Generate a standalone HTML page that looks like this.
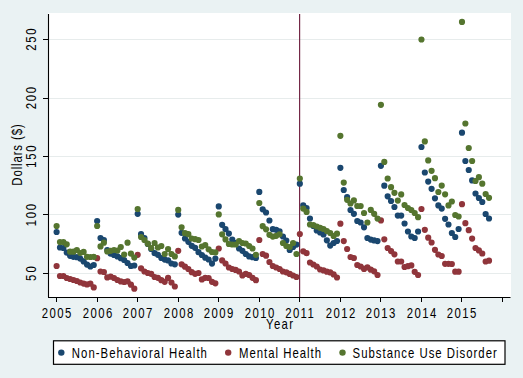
<!DOCTYPE html>
<html><head><meta charset="utf-8"><style>
html,body{margin:0;padding:0;background:#EAF2F3;}
svg{display:block;}
text{font-family:"Liberation Sans", sans-serif;fill:#000;}
</style></head><body>
<svg width="523" height="378" viewBox="0 0 523 378">
<rect x="0" y="0" width="523" height="378" fill="#EAF2F3"/>
<rect x="48" y="13" width="463" height="284" fill="#FFFFFF"/>
<line x1="49" y1="273.5" x2="511" y2="273.5" stroke="#E7ECEC" stroke-width="1"/>
<line x1="49" y1="214.5" x2="511" y2="214.5" stroke="#E7ECEC" stroke-width="1"/>
<line x1="49" y1="156.5" x2="511" y2="156.5" stroke="#E7ECEC" stroke-width="1"/>
<line x1="49" y1="98.5" x2="511" y2="98.5" stroke="#E7ECEC" stroke-width="1"/>
<line x1="49" y1="39.5" x2="511" y2="39.5" stroke="#E7ECEC" stroke-width="1"/>
<line x1="299.6" y1="14" x2="299.6" y2="297" stroke="#742846" stroke-width="1.2"/>
<path d="M53.50 232.00a3.1 3.1 0 1 0 6.2 0a3.1 3.1 0 1 0 -6.2 0M56.88 247.50a3.1 3.1 0 1 0 6.2 0a3.1 3.1 0 1 0 -6.2 0M60.26 248.00a3.1 3.1 0 1 0 6.2 0a3.1 3.1 0 1 0 -6.2 0M63.63 252.60a3.1 3.1 0 1 0 6.2 0a3.1 3.1 0 1 0 -6.2 0M67.01 255.80a3.1 3.1 0 1 0 6.2 0a3.1 3.1 0 1 0 -6.2 0M70.39 256.80a3.1 3.1 0 1 0 6.2 0a3.1 3.1 0 1 0 -6.2 0M73.77 257.20a3.1 3.1 0 1 0 6.2 0a3.1 3.1 0 1 0 -6.2 0M77.15 258.60a3.1 3.1 0 1 0 6.2 0a3.1 3.1 0 1 0 -6.2 0M80.53 261.40a3.1 3.1 0 1 0 6.2 0a3.1 3.1 0 1 0 -6.2 0M83.90 264.60a3.1 3.1 0 1 0 6.2 0a3.1 3.1 0 1 0 -6.2 0M87.28 266.50a3.1 3.1 0 1 0 6.2 0a3.1 3.1 0 1 0 -6.2 0M90.66 265.00a3.1 3.1 0 1 0 6.2 0a3.1 3.1 0 1 0 -6.2 0M94.04 221.00a3.1 3.1 0 1 0 6.2 0a3.1 3.1 0 1 0 -6.2 0M97.42 238.00a3.1 3.1 0 1 0 6.2 0a3.1 3.1 0 1 0 -6.2 0M100.80 240.00a3.1 3.1 0 1 0 6.2 0a3.1 3.1 0 1 0 -6.2 0M104.17 250.00a3.1 3.1 0 1 0 6.2 0a3.1 3.1 0 1 0 -6.2 0M107.55 253.70a3.1 3.1 0 1 0 6.2 0a3.1 3.1 0 1 0 -6.2 0M110.93 255.00a3.1 3.1 0 1 0 6.2 0a3.1 3.1 0 1 0 -6.2 0M114.31 256.40a3.1 3.1 0 1 0 6.2 0a3.1 3.1 0 1 0 -6.2 0M117.69 258.20a3.1 3.1 0 1 0 6.2 0a3.1 3.1 0 1 0 -6.2 0M121.07 260.00a3.1 3.1 0 1 0 6.2 0a3.1 3.1 0 1 0 -6.2 0M124.44 263.00a3.1 3.1 0 1 0 6.2 0a3.1 3.1 0 1 0 -6.2 0M127.82 266.00a3.1 3.1 0 1 0 6.2 0a3.1 3.1 0 1 0 -6.2 0M131.20 265.50a3.1 3.1 0 1 0 6.2 0a3.1 3.1 0 1 0 -6.2 0M134.58 213.80a3.1 3.1 0 1 0 6.2 0a3.1 3.1 0 1 0 -6.2 0M137.96 234.20a3.1 3.1 0 1 0 6.2 0a3.1 3.1 0 1 0 -6.2 0M141.34 238.00a3.1 3.1 0 1 0 6.2 0a3.1 3.1 0 1 0 -6.2 0M144.71 244.00a3.1 3.1 0 1 0 6.2 0a3.1 3.1 0 1 0 -6.2 0M148.09 249.00a3.1 3.1 0 1 0 6.2 0a3.1 3.1 0 1 0 -6.2 0M151.47 253.20a3.1 3.1 0 1 0 6.2 0a3.1 3.1 0 1 0 -6.2 0M154.85 254.80a3.1 3.1 0 1 0 6.2 0a3.1 3.1 0 1 0 -6.2 0M158.23 258.00a3.1 3.1 0 1 0 6.2 0a3.1 3.1 0 1 0 -6.2 0M161.61 259.60a3.1 3.1 0 1 0 6.2 0a3.1 3.1 0 1 0 -6.2 0M164.98 260.40a3.1 3.1 0 1 0 6.2 0a3.1 3.1 0 1 0 -6.2 0M168.36 263.50a3.1 3.1 0 1 0 6.2 0a3.1 3.1 0 1 0 -6.2 0M171.74 264.30a3.1 3.1 0 1 0 6.2 0a3.1 3.1 0 1 0 -6.2 0M175.12 214.60a3.1 3.1 0 1 0 6.2 0a3.1 3.1 0 1 0 -6.2 0M178.50 232.80a3.1 3.1 0 1 0 6.2 0a3.1 3.1 0 1 0 -6.2 0M181.88 238.50a3.1 3.1 0 1 0 6.2 0a3.1 3.1 0 1 0 -6.2 0M185.25 241.80a3.1 3.1 0 1 0 6.2 0a3.1 3.1 0 1 0 -6.2 0M188.63 245.80a3.1 3.1 0 1 0 6.2 0a3.1 3.1 0 1 0 -6.2 0M192.01 247.80a3.1 3.1 0 1 0 6.2 0a3.1 3.1 0 1 0 -6.2 0M195.39 252.20a3.1 3.1 0 1 0 6.2 0a3.1 3.1 0 1 0 -6.2 0M198.77 255.00a3.1 3.1 0 1 0 6.2 0a3.1 3.1 0 1 0 -6.2 0M202.15 257.70a3.1 3.1 0 1 0 6.2 0a3.1 3.1 0 1 0 -6.2 0M205.52 259.50a3.1 3.1 0 1 0 6.2 0a3.1 3.1 0 1 0 -6.2 0M208.90 263.60a3.1 3.1 0 1 0 6.2 0a3.1 3.1 0 1 0 -6.2 0M212.28 258.60a3.1 3.1 0 1 0 6.2 0a3.1 3.1 0 1 0 -6.2 0M215.66 206.40a3.1 3.1 0 1 0 6.2 0a3.1 3.1 0 1 0 -6.2 0M219.04 224.80a3.1 3.1 0 1 0 6.2 0a3.1 3.1 0 1 0 -6.2 0M222.41 229.20a3.1 3.1 0 1 0 6.2 0a3.1 3.1 0 1 0 -6.2 0M225.79 233.60a3.1 3.1 0 1 0 6.2 0a3.1 3.1 0 1 0 -6.2 0M229.17 239.50a3.1 3.1 0 1 0 6.2 0a3.1 3.1 0 1 0 -6.2 0M232.55 243.00a3.1 3.1 0 1 0 6.2 0a3.1 3.1 0 1 0 -6.2 0M235.93 248.50a3.1 3.1 0 1 0 6.2 0a3.1 3.1 0 1 0 -6.2 0M239.31 250.80a3.1 3.1 0 1 0 6.2 0a3.1 3.1 0 1 0 -6.2 0M242.68 254.00a3.1 3.1 0 1 0 6.2 0a3.1 3.1 0 1 0 -6.2 0M246.06 256.40a3.1 3.1 0 1 0 6.2 0a3.1 3.1 0 1 0 -6.2 0M249.44 257.20a3.1 3.1 0 1 0 6.2 0a3.1 3.1 0 1 0 -6.2 0M252.82 258.00a3.1 3.1 0 1 0 6.2 0a3.1 3.1 0 1 0 -6.2 0M256.20 191.90a3.1 3.1 0 1 0 6.2 0a3.1 3.1 0 1 0 -6.2 0M259.58 209.30a3.1 3.1 0 1 0 6.2 0a3.1 3.1 0 1 0 -6.2 0M262.95 212.50a3.1 3.1 0 1 0 6.2 0a3.1 3.1 0 1 0 -6.2 0M266.33 220.50a3.1 3.1 0 1 0 6.2 0a3.1 3.1 0 1 0 -6.2 0M269.71 229.20a3.1 3.1 0 1 0 6.2 0a3.1 3.1 0 1 0 -6.2 0M273.09 229.80a3.1 3.1 0 1 0 6.2 0a3.1 3.1 0 1 0 -6.2 0M276.47 231.30a3.1 3.1 0 1 0 6.2 0a3.1 3.1 0 1 0 -6.2 0M279.85 236.50a3.1 3.1 0 1 0 6.2 0a3.1 3.1 0 1 0 -6.2 0M283.22 240.60a3.1 3.1 0 1 0 6.2 0a3.1 3.1 0 1 0 -6.2 0M286.60 250.00a3.1 3.1 0 1 0 6.2 0a3.1 3.1 0 1 0 -6.2 0M289.98 247.00a3.1 3.1 0 1 0 6.2 0a3.1 3.1 0 1 0 -6.2 0M293.36 244.60a3.1 3.1 0 1 0 6.2 0a3.1 3.1 0 1 0 -6.2 0M296.74 183.70a3.1 3.1 0 1 0 6.2 0a3.1 3.1 0 1 0 -6.2 0M300.12 205.30a3.1 3.1 0 1 0 6.2 0a3.1 3.1 0 1 0 -6.2 0M303.49 208.00a3.1 3.1 0 1 0 6.2 0a3.1 3.1 0 1 0 -6.2 0M306.87 218.50a3.1 3.1 0 1 0 6.2 0a3.1 3.1 0 1 0 -6.2 0M310.25 226.00a3.1 3.1 0 1 0 6.2 0a3.1 3.1 0 1 0 -6.2 0M313.63 230.40a3.1 3.1 0 1 0 6.2 0a3.1 3.1 0 1 0 -6.2 0M317.01 232.40a3.1 3.1 0 1 0 6.2 0a3.1 3.1 0 1 0 -6.2 0M320.39 234.40a3.1 3.1 0 1 0 6.2 0a3.1 3.1 0 1 0 -6.2 0M323.76 240.30a3.1 3.1 0 1 0 6.2 0a3.1 3.1 0 1 0 -6.2 0M327.14 245.60a3.1 3.1 0 1 0 6.2 0a3.1 3.1 0 1 0 -6.2 0M330.52 243.00a3.1 3.1 0 1 0 6.2 0a3.1 3.1 0 1 0 -6.2 0M333.90 241.00a3.1 3.1 0 1 0 6.2 0a3.1 3.1 0 1 0 -6.2 0M337.28 167.80a3.1 3.1 0 1 0 6.2 0a3.1 3.1 0 1 0 -6.2 0M340.66 190.00a3.1 3.1 0 1 0 6.2 0a3.1 3.1 0 1 0 -6.2 0M344.03 197.20a3.1 3.1 0 1 0 6.2 0a3.1 3.1 0 1 0 -6.2 0M347.41 210.00a3.1 3.1 0 1 0 6.2 0a3.1 3.1 0 1 0 -6.2 0M350.79 213.80a3.1 3.1 0 1 0 6.2 0a3.1 3.1 0 1 0 -6.2 0M354.17 221.00a3.1 3.1 0 1 0 6.2 0a3.1 3.1 0 1 0 -6.2 0M357.55 222.50a3.1 3.1 0 1 0 6.2 0a3.1 3.1 0 1 0 -6.2 0M360.93 227.30a3.1 3.1 0 1 0 6.2 0a3.1 3.1 0 1 0 -6.2 0M364.30 238.00a3.1 3.1 0 1 0 6.2 0a3.1 3.1 0 1 0 -6.2 0M367.68 239.60a3.1 3.1 0 1 0 6.2 0a3.1 3.1 0 1 0 -6.2 0M371.06 240.40a3.1 3.1 0 1 0 6.2 0a3.1 3.1 0 1 0 -6.2 0M374.44 241.10a3.1 3.1 0 1 0 6.2 0a3.1 3.1 0 1 0 -6.2 0M377.82 165.80a3.1 3.1 0 1 0 6.2 0a3.1 3.1 0 1 0 -6.2 0M381.20 185.70a3.1 3.1 0 1 0 6.2 0a3.1 3.1 0 1 0 -6.2 0M384.57 196.30a3.1 3.1 0 1 0 6.2 0a3.1 3.1 0 1 0 -6.2 0M387.95 201.00a3.1 3.1 0 1 0 6.2 0a3.1 3.1 0 1 0 -6.2 0M391.33 207.00a3.1 3.1 0 1 0 6.2 0a3.1 3.1 0 1 0 -6.2 0M394.71 215.60a3.1 3.1 0 1 0 6.2 0a3.1 3.1 0 1 0 -6.2 0M398.09 215.60a3.1 3.1 0 1 0 6.2 0a3.1 3.1 0 1 0 -6.2 0M401.46 223.50a3.1 3.1 0 1 0 6.2 0a3.1 3.1 0 1 0 -6.2 0M404.84 231.50a3.1 3.1 0 1 0 6.2 0a3.1 3.1 0 1 0 -6.2 0M408.22 236.50a3.1 3.1 0 1 0 6.2 0a3.1 3.1 0 1 0 -6.2 0M411.60 238.00a3.1 3.1 0 1 0 6.2 0a3.1 3.1 0 1 0 -6.2 0M414.98 231.50a3.1 3.1 0 1 0 6.2 0a3.1 3.1 0 1 0 -6.2 0M418.36 147.00a3.1 3.1 0 1 0 6.2 0a3.1 3.1 0 1 0 -6.2 0M421.73 172.50a3.1 3.1 0 1 0 6.2 0a3.1 3.1 0 1 0 -6.2 0M425.11 181.60a3.1 3.1 0 1 0 6.2 0a3.1 3.1 0 1 0 -6.2 0M428.49 188.80a3.1 3.1 0 1 0 6.2 0a3.1 3.1 0 1 0 -6.2 0M431.87 198.30a3.1 3.1 0 1 0 6.2 0a3.1 3.1 0 1 0 -6.2 0M435.25 205.40a3.1 3.1 0 1 0 6.2 0a3.1 3.1 0 1 0 -6.2 0M438.63 208.60a3.1 3.1 0 1 0 6.2 0a3.1 3.1 0 1 0 -6.2 0M442.00 218.80a3.1 3.1 0 1 0 6.2 0a3.1 3.1 0 1 0 -6.2 0M445.38 224.50a3.1 3.1 0 1 0 6.2 0a3.1 3.1 0 1 0 -6.2 0M448.76 233.00a3.1 3.1 0 1 0 6.2 0a3.1 3.1 0 1 0 -6.2 0M452.14 237.00a3.1 3.1 0 1 0 6.2 0a3.1 3.1 0 1 0 -6.2 0M455.52 229.00a3.1 3.1 0 1 0 6.2 0a3.1 3.1 0 1 0 -6.2 0M458.90 132.70a3.1 3.1 0 1 0 6.2 0a3.1 3.1 0 1 0 -6.2 0M462.27 161.00a3.1 3.1 0 1 0 6.2 0a3.1 3.1 0 1 0 -6.2 0M465.65 170.00a3.1 3.1 0 1 0 6.2 0a3.1 3.1 0 1 0 -6.2 0M469.03 180.40a3.1 3.1 0 1 0 6.2 0a3.1 3.1 0 1 0 -6.2 0M472.41 193.50a3.1 3.1 0 1 0 6.2 0a3.1 3.1 0 1 0 -6.2 0M475.79 198.00a3.1 3.1 0 1 0 6.2 0a3.1 3.1 0 1 0 -6.2 0M479.17 202.00a3.1 3.1 0 1 0 6.2 0a3.1 3.1 0 1 0 -6.2 0M482.54 214.00a3.1 3.1 0 1 0 6.2 0a3.1 3.1 0 1 0 -6.2 0M485.92 218.50a3.1 3.1 0 1 0 6.2 0a3.1 3.1 0 1 0 -6.2 0" fill="#1A476F"/>
<path d="M53.50 266.00a3.1 3.1 0 1 0 6.2 0a3.1 3.1 0 1 0 -6.2 0M56.88 276.00a3.1 3.1 0 1 0 6.2 0a3.1 3.1 0 1 0 -6.2 0M60.26 276.00a3.1 3.1 0 1 0 6.2 0a3.1 3.1 0 1 0 -6.2 0M63.63 278.00a3.1 3.1 0 1 0 6.2 0a3.1 3.1 0 1 0 -6.2 0M67.01 279.00a3.1 3.1 0 1 0 6.2 0a3.1 3.1 0 1 0 -6.2 0M70.39 280.00a3.1 3.1 0 1 0 6.2 0a3.1 3.1 0 1 0 -6.2 0M73.77 281.00a3.1 3.1 0 1 0 6.2 0a3.1 3.1 0 1 0 -6.2 0M77.15 282.50a3.1 3.1 0 1 0 6.2 0a3.1 3.1 0 1 0 -6.2 0M80.53 283.60a3.1 3.1 0 1 0 6.2 0a3.1 3.1 0 1 0 -6.2 0M83.90 284.40a3.1 3.1 0 1 0 6.2 0a3.1 3.1 0 1 0 -6.2 0M87.28 283.60a3.1 3.1 0 1 0 6.2 0a3.1 3.1 0 1 0 -6.2 0M90.66 287.40a3.1 3.1 0 1 0 6.2 0a3.1 3.1 0 1 0 -6.2 0M94.04 258.20a3.1 3.1 0 1 0 6.2 0a3.1 3.1 0 1 0 -6.2 0M97.42 271.50a3.1 3.1 0 1 0 6.2 0a3.1 3.1 0 1 0 -6.2 0M100.80 272.00a3.1 3.1 0 1 0 6.2 0a3.1 3.1 0 1 0 -6.2 0M104.17 277.40a3.1 3.1 0 1 0 6.2 0a3.1 3.1 0 1 0 -6.2 0M107.55 276.70a3.1 3.1 0 1 0 6.2 0a3.1 3.1 0 1 0 -6.2 0M110.93 278.00a3.1 3.1 0 1 0 6.2 0a3.1 3.1 0 1 0 -6.2 0M114.31 280.00a3.1 3.1 0 1 0 6.2 0a3.1 3.1 0 1 0 -6.2 0M117.69 281.40a3.1 3.1 0 1 0 6.2 0a3.1 3.1 0 1 0 -6.2 0M121.07 282.00a3.1 3.1 0 1 0 6.2 0a3.1 3.1 0 1 0 -6.2 0M124.44 281.40a3.1 3.1 0 1 0 6.2 0a3.1 3.1 0 1 0 -6.2 0M127.82 284.70a3.1 3.1 0 1 0 6.2 0a3.1 3.1 0 1 0 -6.2 0M131.20 288.70a3.1 3.1 0 1 0 6.2 0a3.1 3.1 0 1 0 -6.2 0M134.58 254.80a3.1 3.1 0 1 0 6.2 0a3.1 3.1 0 1 0 -6.2 0M137.96 268.30a3.1 3.1 0 1 0 6.2 0a3.1 3.1 0 1 0 -6.2 0M141.34 271.50a3.1 3.1 0 1 0 6.2 0a3.1 3.1 0 1 0 -6.2 0M144.71 273.00a3.1 3.1 0 1 0 6.2 0a3.1 3.1 0 1 0 -6.2 0M148.09 273.80a3.1 3.1 0 1 0 6.2 0a3.1 3.1 0 1 0 -6.2 0M151.47 277.00a3.1 3.1 0 1 0 6.2 0a3.1 3.1 0 1 0 -6.2 0M154.85 277.80a3.1 3.1 0 1 0 6.2 0a3.1 3.1 0 1 0 -6.2 0M158.23 280.20a3.1 3.1 0 1 0 6.2 0a3.1 3.1 0 1 0 -6.2 0M161.61 281.80a3.1 3.1 0 1 0 6.2 0a3.1 3.1 0 1 0 -6.2 0M164.98 277.80a3.1 3.1 0 1 0 6.2 0a3.1 3.1 0 1 0 -6.2 0M168.36 282.50a3.1 3.1 0 1 0 6.2 0a3.1 3.1 0 1 0 -6.2 0M171.74 286.50a3.1 3.1 0 1 0 6.2 0a3.1 3.1 0 1 0 -6.2 0M175.12 250.80a3.1 3.1 0 1 0 6.2 0a3.1 3.1 0 1 0 -6.2 0M178.50 264.30a3.1 3.1 0 1 0 6.2 0a3.1 3.1 0 1 0 -6.2 0M181.88 266.70a3.1 3.1 0 1 0 6.2 0a3.1 3.1 0 1 0 -6.2 0M185.25 269.00a3.1 3.1 0 1 0 6.2 0a3.1 3.1 0 1 0 -6.2 0M188.63 272.20a3.1 3.1 0 1 0 6.2 0a3.1 3.1 0 1 0 -6.2 0M192.01 273.80a3.1 3.1 0 1 0 6.2 0a3.1 3.1 0 1 0 -6.2 0M195.39 273.00a3.1 3.1 0 1 0 6.2 0a3.1 3.1 0 1 0 -6.2 0M198.77 279.40a3.1 3.1 0 1 0 6.2 0a3.1 3.1 0 1 0 -6.2 0M202.15 277.80a3.1 3.1 0 1 0 6.2 0a3.1 3.1 0 1 0 -6.2 0M205.52 278.00a3.1 3.1 0 1 0 6.2 0a3.1 3.1 0 1 0 -6.2 0M208.90 281.80a3.1 3.1 0 1 0 6.2 0a3.1 3.1 0 1 0 -6.2 0M212.28 283.30a3.1 3.1 0 1 0 6.2 0a3.1 3.1 0 1 0 -6.2 0M215.66 248.50a3.1 3.1 0 1 0 6.2 0a3.1 3.1 0 1 0 -6.2 0M219.04 260.40a3.1 3.1 0 1 0 6.2 0a3.1 3.1 0 1 0 -6.2 0M222.41 263.50a3.1 3.1 0 1 0 6.2 0a3.1 3.1 0 1 0 -6.2 0M225.79 267.50a3.1 3.1 0 1 0 6.2 0a3.1 3.1 0 1 0 -6.2 0M229.17 269.00a3.1 3.1 0 1 0 6.2 0a3.1 3.1 0 1 0 -6.2 0M232.55 269.90a3.1 3.1 0 1 0 6.2 0a3.1 3.1 0 1 0 -6.2 0M235.93 271.50a3.1 3.1 0 1 0 6.2 0a3.1 3.1 0 1 0 -6.2 0M239.31 275.40a3.1 3.1 0 1 0 6.2 0a3.1 3.1 0 1 0 -6.2 0M242.68 273.80a3.1 3.1 0 1 0 6.2 0a3.1 3.1 0 1 0 -6.2 0M246.06 275.00a3.1 3.1 0 1 0 6.2 0a3.1 3.1 0 1 0 -6.2 0M249.44 277.80a3.1 3.1 0 1 0 6.2 0a3.1 3.1 0 1 0 -6.2 0M252.82 280.20a3.1 3.1 0 1 0 6.2 0a3.1 3.1 0 1 0 -6.2 0M256.20 240.00a3.1 3.1 0 1 0 6.2 0a3.1 3.1 0 1 0 -6.2 0M259.58 254.00a3.1 3.1 0 1 0 6.2 0a3.1 3.1 0 1 0 -6.2 0M262.95 255.70a3.1 3.1 0 1 0 6.2 0a3.1 3.1 0 1 0 -6.2 0M266.33 262.00a3.1 3.1 0 1 0 6.2 0a3.1 3.1 0 1 0 -6.2 0M269.71 266.00a3.1 3.1 0 1 0 6.2 0a3.1 3.1 0 1 0 -6.2 0M273.09 267.50a3.1 3.1 0 1 0 6.2 0a3.1 3.1 0 1 0 -6.2 0M276.47 269.00a3.1 3.1 0 1 0 6.2 0a3.1 3.1 0 1 0 -6.2 0M279.85 271.50a3.1 3.1 0 1 0 6.2 0a3.1 3.1 0 1 0 -6.2 0M283.22 272.30a3.1 3.1 0 1 0 6.2 0a3.1 3.1 0 1 0 -6.2 0M286.60 273.90a3.1 3.1 0 1 0 6.2 0a3.1 3.1 0 1 0 -6.2 0M289.98 275.50a3.1 3.1 0 1 0 6.2 0a3.1 3.1 0 1 0 -6.2 0M293.36 277.00a3.1 3.1 0 1 0 6.2 0a3.1 3.1 0 1 0 -6.2 0M296.74 234.00a3.1 3.1 0 1 0 6.2 0a3.1 3.1 0 1 0 -6.2 0M300.12 251.30a3.1 3.1 0 1 0 6.2 0a3.1 3.1 0 1 0 -6.2 0M303.49 253.20a3.1 3.1 0 1 0 6.2 0a3.1 3.1 0 1 0 -6.2 0M306.87 262.50a3.1 3.1 0 1 0 6.2 0a3.1 3.1 0 1 0 -6.2 0M310.25 264.50a3.1 3.1 0 1 0 6.2 0a3.1 3.1 0 1 0 -6.2 0M313.63 266.50a3.1 3.1 0 1 0 6.2 0a3.1 3.1 0 1 0 -6.2 0M317.01 269.50a3.1 3.1 0 1 0 6.2 0a3.1 3.1 0 1 0 -6.2 0M320.39 270.40a3.1 3.1 0 1 0 6.2 0a3.1 3.1 0 1 0 -6.2 0M323.76 271.70a3.1 3.1 0 1 0 6.2 0a3.1 3.1 0 1 0 -6.2 0M327.14 272.40a3.1 3.1 0 1 0 6.2 0a3.1 3.1 0 1 0 -6.2 0M330.52 274.40a3.1 3.1 0 1 0 6.2 0a3.1 3.1 0 1 0 -6.2 0M333.90 277.50a3.1 3.1 0 1 0 6.2 0a3.1 3.1 0 1 0 -6.2 0M337.28 223.70a3.1 3.1 0 1 0 6.2 0a3.1 3.1 0 1 0 -6.2 0M340.66 241.10a3.1 3.1 0 1 0 6.2 0a3.1 3.1 0 1 0 -6.2 0M344.03 249.00a3.1 3.1 0 1 0 6.2 0a3.1 3.1 0 1 0 -6.2 0M347.41 257.00a3.1 3.1 0 1 0 6.2 0a3.1 3.1 0 1 0 -6.2 0M350.79 258.00a3.1 3.1 0 1 0 6.2 0a3.1 3.1 0 1 0 -6.2 0M354.17 265.00a3.1 3.1 0 1 0 6.2 0a3.1 3.1 0 1 0 -6.2 0M357.55 266.50a3.1 3.1 0 1 0 6.2 0a3.1 3.1 0 1 0 -6.2 0M360.93 268.90a3.1 3.1 0 1 0 6.2 0a3.1 3.1 0 1 0 -6.2 0M364.30 267.30a3.1 3.1 0 1 0 6.2 0a3.1 3.1 0 1 0 -6.2 0M367.68 269.70a3.1 3.1 0 1 0 6.2 0a3.1 3.1 0 1 0 -6.2 0M371.06 271.30a3.1 3.1 0 1 0 6.2 0a3.1 3.1 0 1 0 -6.2 0M374.44 275.00a3.1 3.1 0 1 0 6.2 0a3.1 3.1 0 1 0 -6.2 0M377.82 220.40a3.1 3.1 0 1 0 6.2 0a3.1 3.1 0 1 0 -6.2 0M381.20 239.30a3.1 3.1 0 1 0 6.2 0a3.1 3.1 0 1 0 -6.2 0M384.57 248.00a3.1 3.1 0 1 0 6.2 0a3.1 3.1 0 1 0 -6.2 0M387.95 251.10a3.1 3.1 0 1 0 6.2 0a3.1 3.1 0 1 0 -6.2 0M391.33 254.30a3.1 3.1 0 1 0 6.2 0a3.1 3.1 0 1 0 -6.2 0M394.71 261.50a3.1 3.1 0 1 0 6.2 0a3.1 3.1 0 1 0 -6.2 0M398.09 261.50a3.1 3.1 0 1 0 6.2 0a3.1 3.1 0 1 0 -6.2 0M401.46 267.00a3.1 3.1 0 1 0 6.2 0a3.1 3.1 0 1 0 -6.2 0M404.84 266.20a3.1 3.1 0 1 0 6.2 0a3.1 3.1 0 1 0 -6.2 0M408.22 265.40a3.1 3.1 0 1 0 6.2 0a3.1 3.1 0 1 0 -6.2 0M411.60 271.80a3.1 3.1 0 1 0 6.2 0a3.1 3.1 0 1 0 -6.2 0M414.98 275.00a3.1 3.1 0 1 0 6.2 0a3.1 3.1 0 1 0 -6.2 0M418.36 209.00a3.1 3.1 0 1 0 6.2 0a3.1 3.1 0 1 0 -6.2 0M421.73 229.80a3.1 3.1 0 1 0 6.2 0a3.1 3.1 0 1 0 -6.2 0M425.11 237.70a3.1 3.1 0 1 0 6.2 0a3.1 3.1 0 1 0 -6.2 0M428.49 242.50a3.1 3.1 0 1 0 6.2 0a3.1 3.1 0 1 0 -6.2 0M431.87 249.80a3.1 3.1 0 1 0 6.2 0a3.1 3.1 0 1 0 -6.2 0M435.25 254.50a3.1 3.1 0 1 0 6.2 0a3.1 3.1 0 1 0 -6.2 0M438.63 256.00a3.1 3.1 0 1 0 6.2 0a3.1 3.1 0 1 0 -6.2 0M442.00 263.80a3.1 3.1 0 1 0 6.2 0a3.1 3.1 0 1 0 -6.2 0M445.38 263.80a3.1 3.1 0 1 0 6.2 0a3.1 3.1 0 1 0 -6.2 0M448.76 264.00a3.1 3.1 0 1 0 6.2 0a3.1 3.1 0 1 0 -6.2 0M452.14 271.70a3.1 3.1 0 1 0 6.2 0a3.1 3.1 0 1 0 -6.2 0M455.52 271.70a3.1 3.1 0 1 0 6.2 0a3.1 3.1 0 1 0 -6.2 0M458.90 204.20a3.1 3.1 0 1 0 6.2 0a3.1 3.1 0 1 0 -6.2 0M462.27 223.20a3.1 3.1 0 1 0 6.2 0a3.1 3.1 0 1 0 -6.2 0M465.65 230.20a3.1 3.1 0 1 0 6.2 0a3.1 3.1 0 1 0 -6.2 0M469.03 238.60a3.1 3.1 0 1 0 6.2 0a3.1 3.1 0 1 0 -6.2 0M472.41 248.00a3.1 3.1 0 1 0 6.2 0a3.1 3.1 0 1 0 -6.2 0M475.79 250.40a3.1 3.1 0 1 0 6.2 0a3.1 3.1 0 1 0 -6.2 0M479.17 253.50a3.1 3.1 0 1 0 6.2 0a3.1 3.1 0 1 0 -6.2 0M482.54 261.50a3.1 3.1 0 1 0 6.2 0a3.1 3.1 0 1 0 -6.2 0M485.92 260.70a3.1 3.1 0 1 0 6.2 0a3.1 3.1 0 1 0 -6.2 0" fill="#90353B"/>
<path d="M53.50 226.00a3.1 3.1 0 1 0 6.2 0a3.1 3.1 0 1 0 -6.2 0M56.88 242.10a3.1 3.1 0 1 0 6.2 0a3.1 3.1 0 1 0 -6.2 0M60.26 242.10a3.1 3.1 0 1 0 6.2 0a3.1 3.1 0 1 0 -6.2 0M63.63 244.30a3.1 3.1 0 1 0 6.2 0a3.1 3.1 0 1 0 -6.2 0M67.01 251.70a3.1 3.1 0 1 0 6.2 0a3.1 3.1 0 1 0 -6.2 0M70.39 251.70a3.1 3.1 0 1 0 6.2 0a3.1 3.1 0 1 0 -6.2 0M73.77 250.00a3.1 3.1 0 1 0 6.2 0a3.1 3.1 0 1 0 -6.2 0M77.15 253.00a3.1 3.1 0 1 0 6.2 0a3.1 3.1 0 1 0 -6.2 0M80.53 251.90a3.1 3.1 0 1 0 6.2 0a3.1 3.1 0 1 0 -6.2 0M83.90 256.80a3.1 3.1 0 1 0 6.2 0a3.1 3.1 0 1 0 -6.2 0M87.28 257.00a3.1 3.1 0 1 0 6.2 0a3.1 3.1 0 1 0 -6.2 0M90.66 256.80a3.1 3.1 0 1 0 6.2 0a3.1 3.1 0 1 0 -6.2 0M94.04 226.00a3.1 3.1 0 1 0 6.2 0a3.1 3.1 0 1 0 -6.2 0M97.42 246.40a3.1 3.1 0 1 0 6.2 0a3.1 3.1 0 1 0 -6.2 0M100.80 242.70a3.1 3.1 0 1 0 6.2 0a3.1 3.1 0 1 0 -6.2 0M104.17 251.50a3.1 3.1 0 1 0 6.2 0a3.1 3.1 0 1 0 -6.2 0M107.55 250.80a3.1 3.1 0 1 0 6.2 0a3.1 3.1 0 1 0 -6.2 0M110.93 250.00a3.1 3.1 0 1 0 6.2 0a3.1 3.1 0 1 0 -6.2 0M114.31 250.50a3.1 3.1 0 1 0 6.2 0a3.1 3.1 0 1 0 -6.2 0M117.69 247.00a3.1 3.1 0 1 0 6.2 0a3.1 3.1 0 1 0 -6.2 0M121.07 254.50a3.1 3.1 0 1 0 6.2 0a3.1 3.1 0 1 0 -6.2 0M124.44 242.70a3.1 3.1 0 1 0 6.2 0a3.1 3.1 0 1 0 -6.2 0M127.82 253.60a3.1 3.1 0 1 0 6.2 0a3.1 3.1 0 1 0 -6.2 0M131.20 257.60a3.1 3.1 0 1 0 6.2 0a3.1 3.1 0 1 0 -6.2 0M134.58 209.00a3.1 3.1 0 1 0 6.2 0a3.1 3.1 0 1 0 -6.2 0M137.96 237.00a3.1 3.1 0 1 0 6.2 0a3.1 3.1 0 1 0 -6.2 0M141.34 240.00a3.1 3.1 0 1 0 6.2 0a3.1 3.1 0 1 0 -6.2 0M144.71 243.70a3.1 3.1 0 1 0 6.2 0a3.1 3.1 0 1 0 -6.2 0M148.09 248.00a3.1 3.1 0 1 0 6.2 0a3.1 3.1 0 1 0 -6.2 0M151.47 243.00a3.1 3.1 0 1 0 6.2 0a3.1 3.1 0 1 0 -6.2 0M154.85 247.50a3.1 3.1 0 1 0 6.2 0a3.1 3.1 0 1 0 -6.2 0M158.23 246.00a3.1 3.1 0 1 0 6.2 0a3.1 3.1 0 1 0 -6.2 0M161.61 254.00a3.1 3.1 0 1 0 6.2 0a3.1 3.1 0 1 0 -6.2 0M164.98 249.00a3.1 3.1 0 1 0 6.2 0a3.1 3.1 0 1 0 -6.2 0M168.36 254.00a3.1 3.1 0 1 0 6.2 0a3.1 3.1 0 1 0 -6.2 0M171.74 256.40a3.1 3.1 0 1 0 6.2 0a3.1 3.1 0 1 0 -6.2 0M175.12 209.90a3.1 3.1 0 1 0 6.2 0a3.1 3.1 0 1 0 -6.2 0M178.50 227.30a3.1 3.1 0 1 0 6.2 0a3.1 3.1 0 1 0 -6.2 0M181.88 233.20a3.1 3.1 0 1 0 6.2 0a3.1 3.1 0 1 0 -6.2 0M185.25 234.20a3.1 3.1 0 1 0 6.2 0a3.1 3.1 0 1 0 -6.2 0M188.63 238.50a3.1 3.1 0 1 0 6.2 0a3.1 3.1 0 1 0 -6.2 0M192.01 239.20a3.1 3.1 0 1 0 6.2 0a3.1 3.1 0 1 0 -6.2 0M195.39 240.00a3.1 3.1 0 1 0 6.2 0a3.1 3.1 0 1 0 -6.2 0M198.77 246.50a3.1 3.1 0 1 0 6.2 0a3.1 3.1 0 1 0 -6.2 0M202.15 245.00a3.1 3.1 0 1 0 6.2 0a3.1 3.1 0 1 0 -6.2 0M205.52 249.30a3.1 3.1 0 1 0 6.2 0a3.1 3.1 0 1 0 -6.2 0M208.90 252.00a3.1 3.1 0 1 0 6.2 0a3.1 3.1 0 1 0 -6.2 0M212.28 252.40a3.1 3.1 0 1 0 6.2 0a3.1 3.1 0 1 0 -6.2 0M215.66 214.40a3.1 3.1 0 1 0 6.2 0a3.1 3.1 0 1 0 -6.2 0M219.04 234.30a3.1 3.1 0 1 0 6.2 0a3.1 3.1 0 1 0 -6.2 0M222.41 239.40a3.1 3.1 0 1 0 6.2 0a3.1 3.1 0 1 0 -6.2 0M225.79 244.00a3.1 3.1 0 1 0 6.2 0a3.1 3.1 0 1 0 -6.2 0M229.17 244.50a3.1 3.1 0 1 0 6.2 0a3.1 3.1 0 1 0 -6.2 0M232.55 244.50a3.1 3.1 0 1 0 6.2 0a3.1 3.1 0 1 0 -6.2 0M235.93 241.00a3.1 3.1 0 1 0 6.2 0a3.1 3.1 0 1 0 -6.2 0M239.31 243.00a3.1 3.1 0 1 0 6.2 0a3.1 3.1 0 1 0 -6.2 0M242.68 243.50a3.1 3.1 0 1 0 6.2 0a3.1 3.1 0 1 0 -6.2 0M246.06 246.00a3.1 3.1 0 1 0 6.2 0a3.1 3.1 0 1 0 -6.2 0M249.44 248.50a3.1 3.1 0 1 0 6.2 0a3.1 3.1 0 1 0 -6.2 0M252.82 254.80a3.1 3.1 0 1 0 6.2 0a3.1 3.1 0 1 0 -6.2 0M256.20 203.00a3.1 3.1 0 1 0 6.2 0a3.1 3.1 0 1 0 -6.2 0M259.58 226.20a3.1 3.1 0 1 0 6.2 0a3.1 3.1 0 1 0 -6.2 0M262.95 229.30a3.1 3.1 0 1 0 6.2 0a3.1 3.1 0 1 0 -6.2 0M266.33 234.80a3.1 3.1 0 1 0 6.2 0a3.1 3.1 0 1 0 -6.2 0M269.71 236.60a3.1 3.1 0 1 0 6.2 0a3.1 3.1 0 1 0 -6.2 0M273.09 235.80a3.1 3.1 0 1 0 6.2 0a3.1 3.1 0 1 0 -6.2 0M276.47 234.30a3.1 3.1 0 1 0 6.2 0a3.1 3.1 0 1 0 -6.2 0M279.85 243.00a3.1 3.1 0 1 0 6.2 0a3.1 3.1 0 1 0 -6.2 0M283.22 246.00a3.1 3.1 0 1 0 6.2 0a3.1 3.1 0 1 0 -6.2 0M286.60 247.00a3.1 3.1 0 1 0 6.2 0a3.1 3.1 0 1 0 -6.2 0M289.98 243.00a3.1 3.1 0 1 0 6.2 0a3.1 3.1 0 1 0 -6.2 0M293.36 254.00a3.1 3.1 0 1 0 6.2 0a3.1 3.1 0 1 0 -6.2 0M296.74 178.50a3.1 3.1 0 1 0 6.2 0a3.1 3.1 0 1 0 -6.2 0M300.12 208.60a3.1 3.1 0 1 0 6.2 0a3.1 3.1 0 1 0 -6.2 0M303.49 211.90a3.1 3.1 0 1 0 6.2 0a3.1 3.1 0 1 0 -6.2 0M306.87 224.50a3.1 3.1 0 1 0 6.2 0a3.1 3.1 0 1 0 -6.2 0M310.25 225.10a3.1 3.1 0 1 0 6.2 0a3.1 3.1 0 1 0 -6.2 0M313.63 226.50a3.1 3.1 0 1 0 6.2 0a3.1 3.1 0 1 0 -6.2 0M317.01 227.80a3.1 3.1 0 1 0 6.2 0a3.1 3.1 0 1 0 -6.2 0M320.39 229.00a3.1 3.1 0 1 0 6.2 0a3.1 3.1 0 1 0 -6.2 0M323.76 231.00a3.1 3.1 0 1 0 6.2 0a3.1 3.1 0 1 0 -6.2 0M327.14 233.00a3.1 3.1 0 1 0 6.2 0a3.1 3.1 0 1 0 -6.2 0M330.52 236.00a3.1 3.1 0 1 0 6.2 0a3.1 3.1 0 1 0 -6.2 0M333.90 233.70a3.1 3.1 0 1 0 6.2 0a3.1 3.1 0 1 0 -6.2 0M337.28 135.80a3.1 3.1 0 1 0 6.2 0a3.1 3.1 0 1 0 -6.2 0M340.66 182.60a3.1 3.1 0 1 0 6.2 0a3.1 3.1 0 1 0 -6.2 0M344.03 199.80a3.1 3.1 0 1 0 6.2 0a3.1 3.1 0 1 0 -6.2 0M347.41 203.50a3.1 3.1 0 1 0 6.2 0a3.1 3.1 0 1 0 -6.2 0M350.79 200.40a3.1 3.1 0 1 0 6.2 0a3.1 3.1 0 1 0 -6.2 0M354.17 206.00a3.1 3.1 0 1 0 6.2 0a3.1 3.1 0 1 0 -6.2 0M357.55 206.00a3.1 3.1 0 1 0 6.2 0a3.1 3.1 0 1 0 -6.2 0M360.93 213.00a3.1 3.1 0 1 0 6.2 0a3.1 3.1 0 1 0 -6.2 0M364.30 222.50a3.1 3.1 0 1 0 6.2 0a3.1 3.1 0 1 0 -6.2 0M367.68 209.90a3.1 3.1 0 1 0 6.2 0a3.1 3.1 0 1 0 -6.2 0M371.06 213.80a3.1 3.1 0 1 0 6.2 0a3.1 3.1 0 1 0 -6.2 0M374.44 218.60a3.1 3.1 0 1 0 6.2 0a3.1 3.1 0 1 0 -6.2 0M377.82 104.80a3.1 3.1 0 1 0 6.2 0a3.1 3.1 0 1 0 -6.2 0M381.20 161.90a3.1 3.1 0 1 0 6.2 0a3.1 3.1 0 1 0 -6.2 0M384.57 178.50a3.1 3.1 0 1 0 6.2 0a3.1 3.1 0 1 0 -6.2 0M387.95 187.20a3.1 3.1 0 1 0 6.2 0a3.1 3.1 0 1 0 -6.2 0M391.33 192.80a3.1 3.1 0 1 0 6.2 0a3.1 3.1 0 1 0 -6.2 0M394.71 200.60a3.1 3.1 0 1 0 6.2 0a3.1 3.1 0 1 0 -6.2 0M398.09 194.40a3.1 3.1 0 1 0 6.2 0a3.1 3.1 0 1 0 -6.2 0M401.46 205.00a3.1 3.1 0 1 0 6.2 0a3.1 3.1 0 1 0 -6.2 0M404.84 208.00a3.1 3.1 0 1 0 6.2 0a3.1 3.1 0 1 0 -6.2 0M408.22 210.00a3.1 3.1 0 1 0 6.2 0a3.1 3.1 0 1 0 -6.2 0M411.60 213.00a3.1 3.1 0 1 0 6.2 0a3.1 3.1 0 1 0 -6.2 0M414.98 217.20a3.1 3.1 0 1 0 6.2 0a3.1 3.1 0 1 0 -6.2 0M418.36 39.50a3.1 3.1 0 1 0 6.2 0a3.1 3.1 0 1 0 -6.2 0M421.73 141.40a3.1 3.1 0 1 0 6.2 0a3.1 3.1 0 1 0 -6.2 0M425.11 160.40a3.1 3.1 0 1 0 6.2 0a3.1 3.1 0 1 0 -6.2 0M428.49 170.80a3.1 3.1 0 1 0 6.2 0a3.1 3.1 0 1 0 -6.2 0M431.87 178.20a3.1 3.1 0 1 0 6.2 0a3.1 3.1 0 1 0 -6.2 0M435.25 192.00a3.1 3.1 0 1 0 6.2 0a3.1 3.1 0 1 0 -6.2 0M438.63 185.60a3.1 3.1 0 1 0 6.2 0a3.1 3.1 0 1 0 -6.2 0M442.00 194.30a3.1 3.1 0 1 0 6.2 0a3.1 3.1 0 1 0 -6.2 0M445.38 205.40a3.1 3.1 0 1 0 6.2 0a3.1 3.1 0 1 0 -6.2 0M448.76 201.50a3.1 3.1 0 1 0 6.2 0a3.1 3.1 0 1 0 -6.2 0M452.14 215.00a3.1 3.1 0 1 0 6.2 0a3.1 3.1 0 1 0 -6.2 0M455.52 216.50a3.1 3.1 0 1 0 6.2 0a3.1 3.1 0 1 0 -6.2 0M458.90 21.90a3.1 3.1 0 1 0 6.2 0a3.1 3.1 0 1 0 -6.2 0M462.27 123.50a3.1 3.1 0 1 0 6.2 0a3.1 3.1 0 1 0 -6.2 0M465.65 148.00a3.1 3.1 0 1 0 6.2 0a3.1 3.1 0 1 0 -6.2 0M469.03 161.00a3.1 3.1 0 1 0 6.2 0a3.1 3.1 0 1 0 -6.2 0M472.41 181.00a3.1 3.1 0 1 0 6.2 0a3.1 3.1 0 1 0 -6.2 0M475.79 177.20a3.1 3.1 0 1 0 6.2 0a3.1 3.1 0 1 0 -6.2 0M479.17 183.70a3.1 3.1 0 1 0 6.2 0a3.1 3.1 0 1 0 -6.2 0M482.54 194.00a3.1 3.1 0 1 0 6.2 0a3.1 3.1 0 1 0 -6.2 0M485.92 197.80a3.1 3.1 0 1 0 6.2 0a3.1 3.1 0 1 0 -6.2 0" fill="#55752F"/>
<line x1="48.5" y1="14" x2="48.5" y2="297.5" stroke="#000" stroke-width="1.1"/>
<line x1="48" y1="297.5" x2="510.5" y2="297.5" stroke="#000" stroke-width="1.1"/>
<line x1="43" y1="273.5" x2="48" y2="273.5" stroke="#000" stroke-width="1"/>
<g transform="translate(36.00 273.60) rotate(-90) scale(0.8 1)"><text x="0" y="0" text-anchor="middle" font-size="14.2" textLength="18.49" lengthAdjust="spacing">50</text></g>
<line x1="43" y1="214.5" x2="48" y2="214.5" stroke="#000" stroke-width="1"/>
<g transform="translate(36.00 215.10) rotate(-90) scale(0.8 1)"><text x="0" y="0" text-anchor="middle" font-size="14.2" textLength="27.74" lengthAdjust="spacing">100</text></g>
<line x1="43" y1="156.5" x2="48" y2="156.5" stroke="#000" stroke-width="1"/>
<g transform="translate(36.00 156.60) rotate(-90) scale(0.8 1)"><text x="0" y="0" text-anchor="middle" font-size="14.2" textLength="27.74" lengthAdjust="spacing">150</text></g>
<line x1="43" y1="98.5" x2="48" y2="98.5" stroke="#000" stroke-width="1"/>
<g transform="translate(36.00 98.10) rotate(-90) scale(0.8 1)"><text x="0" y="0" text-anchor="middle" font-size="14.2" textLength="27.74" lengthAdjust="spacing">200</text></g>
<line x1="43" y1="39.5" x2="48" y2="39.5" stroke="#000" stroke-width="1"/>
<g transform="translate(36.00 39.60) rotate(-90) scale(0.8 1)"><text x="0" y="0" text-anchor="middle" font-size="14.2" textLength="27.74" lengthAdjust="spacing">250</text></g>
<line x1="56.5" y1="298" x2="56.5" y2="302" stroke="#000" stroke-width="1"/>
<g transform="translate(56.50 317.60) scale(0.8 1)"><text x="0" y="0" text-anchor="middle" font-size="14.2" textLength="36.98" lengthAdjust="spacing">2005</text></g>
<line x1="97.5" y1="298" x2="97.5" y2="302" stroke="#000" stroke-width="1"/>
<g transform="translate(97.50 317.60) scale(0.8 1)"><text x="0" y="0" text-anchor="middle" font-size="14.2" textLength="36.98" lengthAdjust="spacing">2006</text></g>
<line x1="137.5" y1="298" x2="137.5" y2="302" stroke="#000" stroke-width="1"/>
<g transform="translate(137.50 317.60) scale(0.8 1)"><text x="0" y="0" text-anchor="middle" font-size="14.2" textLength="36.98" lengthAdjust="spacing">2007</text></g>
<line x1="178.5" y1="298" x2="178.5" y2="302" stroke="#000" stroke-width="1"/>
<g transform="translate(178.50 317.60) scale(0.8 1)"><text x="0" y="0" text-anchor="middle" font-size="14.2" textLength="36.98" lengthAdjust="spacing">2008</text></g>
<line x1="218.5" y1="298" x2="218.5" y2="302" stroke="#000" stroke-width="1"/>
<g transform="translate(218.50 317.60) scale(0.8 1)"><text x="0" y="0" text-anchor="middle" font-size="14.2" textLength="36.98" lengthAdjust="spacing">2009</text></g>
<line x1="259.5" y1="298" x2="259.5" y2="302" stroke="#000" stroke-width="1"/>
<g transform="translate(259.50 317.60) scale(0.8 1)"><text x="0" y="0" text-anchor="middle" font-size="14.2" textLength="36.98" lengthAdjust="spacing">2010</text></g>
<line x1="299.5" y1="298" x2="299.5" y2="302" stroke="#000" stroke-width="1"/>
<g transform="translate(299.50 317.60) scale(0.8 1)"><text x="0" y="0" text-anchor="middle" font-size="14.2" textLength="35.75" lengthAdjust="spacing">2011</text></g>
<line x1="340.5" y1="298" x2="340.5" y2="302" stroke="#000" stroke-width="1"/>
<g transform="translate(340.50 317.60) scale(0.8 1)"><text x="0" y="0" text-anchor="middle" font-size="14.2" textLength="36.98" lengthAdjust="spacing">2012</text></g>
<line x1="380.5" y1="298" x2="380.5" y2="302" stroke="#000" stroke-width="1"/>
<g transform="translate(380.50 317.60) scale(0.8 1)"><text x="0" y="0" text-anchor="middle" font-size="14.2" textLength="36.98" lengthAdjust="spacing">2013</text></g>
<line x1="421.5" y1="298" x2="421.5" y2="302" stroke="#000" stroke-width="1"/>
<g transform="translate(421.50 317.60) scale(0.8 1)"><text x="0" y="0" text-anchor="middle" font-size="14.2" textLength="36.98" lengthAdjust="spacing">2014</text></g>
<line x1="461.5" y1="298" x2="461.5" y2="302" stroke="#000" stroke-width="1"/>
<g transform="translate(461.50 317.60) scale(0.8 1)"><text x="0" y="0" text-anchor="middle" font-size="14.2" textLength="36.98" lengthAdjust="spacing">2015</text></g>
<line x1="502.5" y1="298" x2="502.5" y2="302" stroke="#000" stroke-width="1"/>
<g transform="translate(279.50 329.30) scale(0.8 1)"><text x="0" y="0" text-anchor="middle" font-size="14.2" textLength="33.59" lengthAdjust="spacing">Year</text></g>
<g transform="translate(22.00 155.00) rotate(-90) scale(0.8 1)"><text x="0" y="0" text-anchor="middle" font-size="14.2" textLength="76.67" lengthAdjust="spacing">Dollars ($)</text></g>
<rect x="53.5" y="340.8" width="451.5" height="23.5" fill="#FFFFFF" stroke="#000" stroke-width="1.2"/>
<circle cx="61.3" cy="352.6" r="3.2" fill="#1A476F"/>
<g transform="translate(71.80 357.90) scale(0.8 1)"><text x="0" y="0" text-anchor="start" font-size="14.2" textLength="168.94" lengthAdjust="spacing">Non-Behavioral Health</text></g>
<circle cx="228.2" cy="352.6" r="3.2" fill="#90353B"/>
<g transform="translate(239.00 357.90) scale(0.8 1)"><text x="0" y="0" text-anchor="start" font-size="14.2" textLength="102.57" lengthAdjust="spacing">Mental Health</text></g>
<circle cx="342.5" cy="352.6" r="3.2" fill="#55752F"/>
<g transform="translate(352.60 357.90) scale(0.8 1)"><text x="0" y="0" text-anchor="start" font-size="14.2" textLength="180.19" lengthAdjust="spacing">Substance Use Disorder</text></g>
</svg>
</body></html>
